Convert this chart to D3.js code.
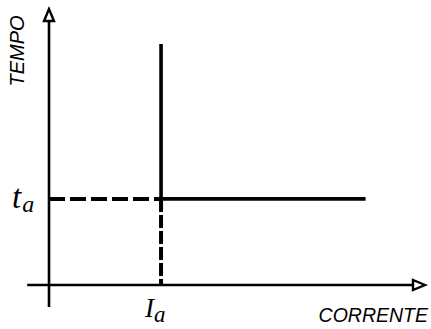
<!DOCTYPE html>
<html>
<head>
<meta charset="utf-8">
<script src="https://cdn.jsdelivr.net/npm/d3@7"></script>
<style>
html,body{margin:0;padding:0;background:#fff;}
svg{display:block;}
</style>
</head>
<body>
<script>
// Data (arbitrary units)
const currentDomain = [0, 10];
const timeDomain = [0, 10];
const axisX = [-0.58, 10];      // current axis extent
const axisY = [-0.8, 10];       // time axis extent
const Ia = 2.98;                // pickup current
const ta = 3.12;                // definite time
const curve = [ {I: Ia, t: 8.73}, {I: Ia, t: ta}, {I: 8.42, t: ta} ];
const dashH = [ {I: 0, t: ta}, {I: Ia, t: ta} ];
const dashV = [ {I: Ia, t: ta}, {I: Ia, t: 0} ];
const xLabel = "CORRENTE";
const yLabel = "TEMPO";

const W = 431, H = 329;
const svg = d3.select("body").append("svg").attr("width", W).attr("height", H);

const x = d3.scaleLinear().domain(currentDomain).range([49, 425]);
const y = d3.scaleLinear().domain(timeDomain).range([285, 9]);

const line = d3.line().x(d => x(d.I)).y(d => y(d.t));

// Axes
svg.append("line")
  .attr("x1", x(axisX[0])).attr("x2", x(axisX[1]) - 11)
  .attr("y1", y(0)).attr("y2", y(0))
  .attr("stroke", "#000").attr("stroke-width", 2.6);
svg.append("line")
  .attr("x1", x(0)).attr("x2", x(0))
  .attr("y1", y(axisY[0])).attr("y2", y(axisY[1]) + 12)
  .attr("stroke", "#000").attr("stroke-width", 2.6);

// Arrowheads (hollow)
const xt = x(axisX[1]), yt = y(0);
svg.append("path")
  .attr("d", `M${xt},${yt} L${xt-12},${yt-5} L${xt-12},${yt+5} Z`)
  .attr("fill", "#fff").attr("stroke", "#000").attr("stroke-width", 2.4).attr("stroke-linejoin", "miter");
const yx = x(0), yy = y(axisY[1]);
svg.append("path")
  .attr("d", `M${yx},${yy} L${yx-5},${yy+12} L${yx+5},${yy+12} Z`)
  .attr("fill", "#fff").attr("stroke", "#000").attr("stroke-width", 2.4).attr("stroke-linejoin", "miter");

// Dashed guide lines
svg.append("path").datum(dashH).attr("d", line)
  .attr("fill", "none").attr("stroke", "#000").attr("stroke-width", 4)
  .attr("stroke-dasharray", "16,5");
svg.append("path").datum(dashV).attr("d", line)
  .attr("fill", "none").attr("stroke", "#000").attr("stroke-width", 4)
  .attr("stroke-dasharray", "13,3");

// Characteristic curve
svg.append("path").datum(curve).attr("d", line)
  .attr("fill", "none").attr("stroke", "#000").attr("stroke-width", 3.6)
  .attr("stroke-linejoin", "miter");

// Labels
const serif = "'Liberation Serif','DejaVu Serif',serif";
const sans = "'Liberation Sans',Arial,sans-serif";

const tl = svg.append("text").attr("x", 12).attr("y", y(ta) + 9)
  .attr("font-family", serif).attr("font-style", "italic").attr("font-size", 33);
tl.append("tspan").text("t");
tl.append("tspan").attr("font-size", 24).attr("dx", 1).attr("dy", 4).text("a");

const il = svg.append("text").attr("x", 145).attr("y", 317)
  .attr("font-family", serif).attr("font-style", "italic").attr("font-size", 27);
il.append("tspan").text("I");
il.append("tspan").attr("font-size", 23).attr("dy", 5).text("a");

svg.append("text").attr("x", 428).attr("y", 322)
  .attr("text-anchor", "end")
  .attr("font-family", sans).attr("font-style", "italic").attr("font-size", 19.5)
  .text(xLabel);

svg.append("text")
  .attr("transform", "translate(24,51) rotate(-90)")
  .attr("text-anchor", "middle")
  .attr("font-family", sans).attr("font-style", "italic").attr("font-size", 20)
  .text(yLabel);
</script>
</body>
</html>
